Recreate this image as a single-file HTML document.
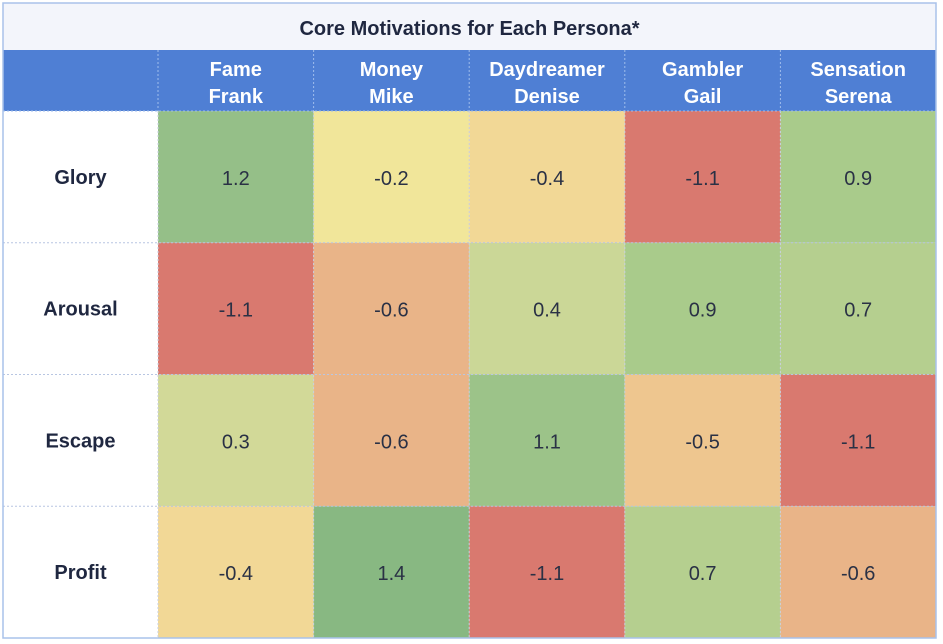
<!DOCTYPE html>
<html><head><meta charset="utf-8"><style>
html,body{margin:0;padding:0;background:#fff;width:943px;height:644px;overflow:hidden}
svg text{font-family:"Liberation Sans",sans-serif}
</style></head><body>
<svg id="chart" width="943" height="644" xmlns="http://www.w3.org/2000/svg"></svg>
<script>
const personas = [["Fame","Frank"],["Money","Mike"],["Daydreamer","Denise"],["Gambler","Gail"],["Sensation","Serena"]];
const motivations = ["Glory","Arousal","Escape","Profit"];
const gloryValues = [1.2,-0.2,-0.4,-1.1,0.9];
const arousalValues = [-1.1,-0.6,0.4,0.9,0.7];
const escapeValues = [0.3,-0.6,1.1,-0.5,-1.1];
const profitValues = [-0.4,1.4,-1.1,0.7,-0.6];
const values = [gloryValues,arousalValues,escapeValues,profitValues];
const titleText = "Core Motivations for Each Persona*";

const svg = document.getElementById('chart');
const NS = "http://www.w3.org/2000/svg";
const L=3,R=936,T=3,B=638,titleH=47,headH=61,labelW=155;
const colW=(R-L-labelW)/personas.length;
const rowH=(B-T-titleH-headH)/motivations.length;
function xPos(i){return L+labelW+i*colW;}
function yPos(j){return T+titleH+headH+j*rowH;}
const stops=[[-1.1,[217,121,111]],[-0.6,[233,180,136]],[-0.4,[242,216,150]],[-0.2,[241,230,154]],[0.35,[207,216,152]],[0.7,[181,207,143]],[0.9,[169,203,139]],[1.2,[149,191,136]],[1.4,[136,184,130]]];
function color(v){
  if(v<=stops[0][0])return 'rgb('+stops[0][1]+')';
  for(let k=1;k<stops.length;k++){if(v<=stops[k][0]){const a=stops[k-1],b=stops[k];const t=(v-a[0])/(b[0]-a[0]);return 'rgb('+a[1].map((c,i)=>Math.round(c+(b[1][i]-c)*t)).join(',')+')';}}
  return 'rgb('+stops[stops.length-1][1]+')';
}
function el(tag,attrs,text){const e=document.createElementNS(NS,tag);for(const k in attrs)e.setAttribute(k,attrs[k]);if(text!==undefined)e.textContent=text;svg.appendChild(e);return e;}

let e;
e=el('rect',{x:L,y:T,width:R-L,height:titleH,fill:'#f3f5fb'});


e=el('text',{x:(L+R)/2,y:T+32,'text-anchor':'middle','font-size':20,'font-weight':'bold',fill:'#1f2740'},titleText);


e=el('rect',{x:L,y:T+titleH,width:R-L,height:headH,fill:'#4f7fd4'});


personas.forEach((p,i)=>{
  const cx=xPos(i)+colW/2;
  e=el('text',{x:cx,y:T+titleH+26,'text-anchor':'middle','font-size':20,'font-weight':'bold',fill:'#fff'},p[0]);
  
  
  e=el('text',{x:cx,y:T+titleH+53,'text-anchor':'middle','font-size':20,'font-weight':'bold',fill:'#fff'},p[1]);
  
  
  e=el('line',{x1:xPos(i),x2:xPos(i),y1:T+titleH,y2:T+titleH+headH,stroke:'#9fbcec','stroke-dasharray':'2,2'});
  
  
});
motivations.forEach((m,j)=>{
  const y=yPos(j);
  e=el('text',{x:L+labelW/2,y:y+rowH/2+7,'text-anchor':'middle','font-size':20,'font-weight':'bold',fill:'#1f2740'},m);
  
  
  values[j].forEach((v,i)=>{
    e=el('rect',{x:xPos(i),y:y,width:colW,height:rowH,fill:color(v)});
    
    
    e=el('text',{x:xPos(i)+colW/2,y:y+rowH/2+8,'text-anchor':'middle','font-size':20,fill:'#2a3145'},v<0?'-'+Math.abs(v).toFixed(1):v.toFixed(1));
    
    
  });
  if(j>0){e=el('line',{x1:L,x2:R,y1:y,y2:y,stroke:'#b8c6e2','stroke-dasharray':'2,2'});
  
  }
});
for(let i=0;i<=personas.length;i++){
  e=el('line',{x1:xPos(i),x2:xPos(i),y1:yPos(0),y2:B,stroke:'#c8d0e0','stroke-dasharray':'2,2'});
  
  
}
e=el('line',{x1:L,x2:R,y1:yPos(0),y2:yPos(0),stroke:'#9fbcec','stroke-dasharray':'2,2'});


e=el('rect',{x:L,y:T,width:R-L,height:B-T,fill:'none',stroke:'#a9c2ea','stroke-width':1.5});


</script>
</body></html>
